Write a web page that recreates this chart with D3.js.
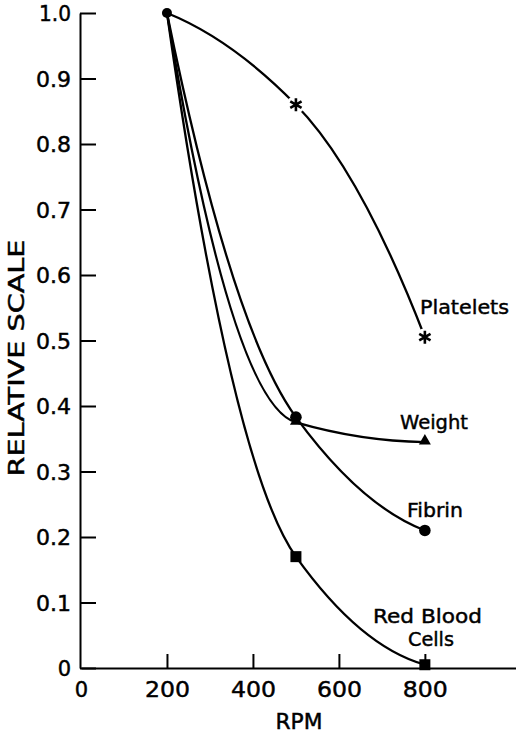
<!DOCTYPE html>
<html>
<head>
<meta charset="utf-8">
<script src="https://cdn.jsdelivr.net/npm/d3@7"></script>
<style>
  html, body { margin: 0; padding: 0; background: #fff; }
  svg { display: block; }
  text { font-family: "DejaVu Sans", sans-serif; fill: #000; stroke: #000; stroke-width: 0.45px; }
</style>
</head>
<body>
<svg id="chart" width="516" height="733"></svg>
<script>
// Rotor speed (RPM) and the relative measures taken at each speed
const rpm = [200, 500, 800];
const platelets = [1.0, 0.86, 0.505];
const weight = [1.0, 0.375, 0.345];
const fibrin = [1.0, 0.383, 0.21];
const redBloodCells = [1.0, 0.17, 0.005];

const xTickValues = [0, 200, 400, 600, 800];
const yTickValues = [0, 0.1, 0.2, 0.3, 0.4, 0.5, 0.6, 0.7, 0.8, 0.9, 1.0];
const yTickLabels = ["0", "0.1", "0.2", "0.3", "0.4", "0.5", "0.6", "0.7", "0.8", "0.9", "1.0"];

const svg = d3.select("#chart");

const x = d3.scaleLinear().domain([0, 1012]).range([81, 516]);
const y = d3.scaleLinear().domain([0, 1]).range([668, 13]);

// Smooth interpolation: Hermite segments with harmonic-mean slopes at interior
// points and parabolic end conditions, so each curve bends like a drafted spline.
function curveDrafted(context) {
  let pts;
  return {
    areaStart() {}, areaEnd() {},
    lineStart() { pts = []; },
    point(px, py) { pts.push([+px, +py]); },
    lineEnd() {
      const n = pts.length;
      if (!n) return;
      context.moveTo(pts[0][0], pts[0][1]);
      if (n < 2) return;
      const s = [];
      for (let i = 0; i < n - 1; i++) {
        s.push((pts[i + 1][1] - pts[i][1]) / (pts[i + 1][0] - pts[i][0]));
      }
      const t = new Array(n);
      if (n === 2) { t[0] = t[1] = s[0]; }
      else {
        for (let i = 1; i < n - 1; i++) {
          t[i] = s[i - 1] * s[i] > 0 ? 2 * s[i - 1] * s[i] / (s[i - 1] + s[i]) : 0;
        }
        t[0] = 2 * s[0] - t[1];
        t[n - 1] = 2 * s[n - 2] - t[n - 2];
      }
      for (let i = 0; i < n - 1; i++) {
        const [x0, y0] = pts[i], [x1, y1] = pts[i + 1];
        const h = x1 - x0;
        context.bezierCurveTo(x0 + h / 3, y0 + t[i] * h / 3, x1 - h / 3, y1 - t[i + 1] * h / 3, x1, y1);
      }
    }
  };
}

const series = [
  { name: "Platelets", values: platelets, marker: "star" },
  { name: "Weight", values: weight, marker: "triangle" },
  { name: "Fibrin", values: fibrin, marker: "circle" },
  { name: "Red Blood Cells", values: redBloodCells, marker: "square" }
];

// Axes
const yAxis = d3.axisLeft(y)
  .tickValues(yTickValues)
  .tickFormat((d, i) => yTickLabels[i])
  .tickSizeInner(-16)
  .tickSizeOuter(0)
  .tickPadding(9);

const xAxis = d3.axisBottom(x)
  .tickValues(xTickValues)
  .tickFormat(d3.format("d"))
  .tickSizeInner(-14)
  .tickSizeOuter(0);

const gy = svg.append("g").attr("transform", "translate(80,0)").call(yAxis);
const gx = svg.append("g").attr("transform", "translate(0,668)").call(xAxis);

[gy, gx].forEach(g => {
  g.select(".domain").attr("stroke", "#000").attr("stroke-width", 2);
  g.selectAll(".tick line").attr("stroke", "#000").attr("stroke-width", 2);
  g.selectAll(".tick text")
    .attr("font-family", "DejaVu Sans, sans-serif")
    .attr("font-size", 21)
    .attr("fill", "#000");
});
gy.selectAll(".tick text")
  .attr("dy", "0.36em")
  .each(function (d, i) {
    const label = yTickLabels[i];
    if (label.length === 3) {
      d3.select(this).attr("textLength", label.startsWith("0") ? 35 : 32)
        .attr("lengthAdjust", "spacingAndGlyphs");
    }
  });
gx.selectAll(".tick line").filter(d => d === 0).remove();
gx.selectAll(".tick text")
  .attr("y", 21)
  .attr("dy", "0.36em")
  .each(function (d) {
    const label = String(d);
    if (label.length === 3) {
      d3.select(this).attr("textLength", 45).attr("lengthAdjust", "spacingAndGlyphs");
    }
  });

// Axis titles
svg.append("text")
  .attr("x", 299).attr("y", 722)
  .attr("text-anchor", "middle")
  .attr("dominant-baseline", "central")
  .attr("font-size", 20.5)
  .attr("textLength", 47).attr("lengthAdjust", "spacingAndGlyphs")
  .text("RPM");

svg.append("text")
  .attr("transform", "translate(16,358) rotate(-90)")
  .attr("text-anchor", "middle")
  .attr("dominant-baseline", "central")
  .attr("font-size", 21.5)
  .attr("textLength", 237).attr("lengthAdjust", "spacingAndGlyphs")
  .text("RELATIVE SCALE");

// Curves
const line = d3.line()
  .x((d, i) => x(rpm[i]))
  .y(d => y(d))
  .curve(curveDrafted);

svg.append("g").selectAll("path")
  .data(series)
  .join("path")
  .attr("d", d => line(d.values))
  .attr("fill", "none")
  .attr("stroke", "#000")
  .attr("stroke-width", 2.3);

// Gaps in the platelet curve around its star markers
svg.append("g").selectAll("circle")
  .data(platelets.slice(1).map((v, i) => ({ r: rpm[i + 1], v })))
  .join("circle")
  .attr("cx", d => x(d.r))
  .attr("cy", d => y(d.v))
  .attr("r", 9)
  .attr("fill", "#fff");

// Markers
const markerGroup = svg.append("g");
series.forEach(s => {
  const pts = s.values.map((v, i) => ({ r: rpm[i], v })).slice(1);
  const g = markerGroup.append("g");
  if (s.marker === "star") {
    g.selectAll("path").data(pts).join("path")
      .attr("transform", d => `translate(${x(d.r)},${y(d.v)})`)
      .attr("d", d3.symbol(d3.symbolAsterisk, 120))
      .attr("fill", "none").attr("stroke", "#000").attr("stroke-width", 2.6);
  } else if (s.marker === "triangle") {
    g.selectAll("path").data(pts).join("path")
      .attr("transform", d => `translate(${x(d.r)},${y(d.v) - 1})`)
      .attr("d", d3.symbol(d3.symbolTriangle, 62))
      .attr("fill", "#000");
  } else if (s.marker === "circle") {
    g.selectAll("circle").data(pts).join("circle")
      .attr("cx", d => x(d.r)).attr("cy", d => y(d.v))
      .attr("r", 5.8).attr("fill", "#000");
  } else {
    g.selectAll("rect").data(pts).join("rect")
      .attr("x", d => x(d.r) - 5.5).attr("y", d => y(d.v) - 5.5)
      .attr("width", 11).attr("height", 11).attr("fill", "#000");
  }
});

// Shared starting point
markerGroup.append("circle")
  .attr("cx", x(rpm[0])).attr("cy", y(1.0))
  .attr("r", 5).attr("fill", "#000");

// Series labels
const labels = [
  { lines: ["Platelets"], x: [420], y: [314], w: [89] },
  { lines: ["Weight"], x: [400], y: [429], w: [68] },
  { lines: ["Fibrin"], x: [407], y: [517], w: [56] },
  { lines: ["Red Blood", "Cells"], x: [373, 408], y: [623, 646], w: [109, 46] }
];
labels.forEach(l => {
  l.lines.forEach((t, i) => {
    svg.append("text")
      .attr("x", l.x[i])
      .attr("y", l.y[i])
      .attr("font-size", 20)
      .attr("textLength", l.w[i]).attr("lengthAdjust", "spacingAndGlyphs")
      .text(t);
  });
});
</script>
</body>
</html>
